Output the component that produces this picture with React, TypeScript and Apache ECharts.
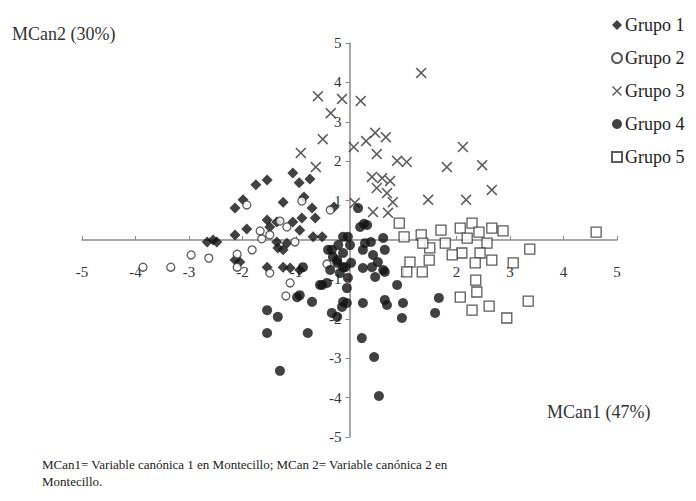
import React, { useEffect, useRef } from "react";
import * as echarts from "echarts";

const xTicks = [-5, -4, -3, -2, -1, 0, 1, 2, 3, 4, 5];
const legendNames = ["Grupo 1", "Grupo 2", "Grupo 3", "Grupo 4", "Grupo 5"];

const grupo1: number[][] = [
  [-1.75, 1.4], [-1.54, 1.52], [-2.14, 0.81], [-1.99, 1.02], [-1.06, 1.7], [-0.94, 1.45],
  [-0.74, 1.55], [-1.24, 0.96], [-0.85, 1.09], [-0.7, 0.81], [-0.64, 0.56], [-0.29, 0.84],
  [-1.54, 0.51], [-1.49, 0.33], [-1.36, 0.46], [-1.06, 0.46], [-0.89, 0.56], [-0.93, 0.25],
  [-1.92, 0.28], [-2.14, 0.13], [-2.55, 0.0], [-2.66, -0.05], [-2.48, -0.05], [-2.14, -0.51],
  [-2.05, -0.56], [-1.34, -0.2], [-1.24, -0.25], [-1.17, -0.08], [-1.36, -0.05], [-0.68, 0.08],
  [-0.51, 0.08], [-1.54, -0.69], [-1.24, -0.69], [-1.11, -0.71], [-0.93, -0.76],
];

const grupo2: number[][] = [
  [-3.86, -0.69], [-3.34, -0.69], [-2.96, -0.38], [-2.63, -0.46], [-2.1, -0.36], [-2.1, -0.69],
  [-1.82, -0.25], [-1.64, 0.03], [-1.49, 0.13], [-1.67, 0.23], [-1.92, 0.89], [-1.3, 0.48],
  [-1.17, 0.33], [-1.02, -0.05], [-0.89, 0.99], [-0.36, 0.76], [-0.42, -0.61], [-1.49, -0.84],
  [-1.11, -1.09], [-1.19, -1.42],
];

const grupo3: number[][] = [
  [-0.59, 3.65], [-0.14, 3.58], [0.21, 3.53], [-0.35, 3.22], [-0.5, 2.56], [-0.91, 2.21],
  [-0.63, 1.85], [0.08, 2.36], [0.31, 2.51], [0.48, 2.72], [0.68, 2.61], [0.51, 2.18],
  [0.89, 2.01], [1.07, 1.98], [1.34, 4.24], [1.82, 1.85], [2.12, 2.36], [2.48, 1.9],
  [2.66, 1.27], [1.47, 1.02], [2.18, 1.02], [0.42, 1.6], [0.61, 1.57], [0.76, 1.5],
  [0.51, 1.32], [0.7, 1.19], [0.81, 0.96], [0.1, 0.94], [0.44, 0.71], [0.72, 0.69],
];

const grupo4: number[][] = [
  [-0.12, 0.08], [-0.03, 0.08], [0.2, 0.33], [0.33, 0.38], [0.16, 0.81], [0.27, 0.41],
  [-0.51, -1.14], [-0.42, -1.09], [-0.98, -1.45], [-0.7, -1.57], [-1.54, -1.78], [-1.34, -1.95],
  [-1.54, -2.36], [-0.78, -2.36], [-1.3, -3.32], [-0.33, -1.85], [-0.23, -1.95], [-0.05, -1.6],
  [-0.33, -0.25], [-0.23, -0.51], [-0.12, -0.69], [-0.14, -1.7], [0.25, -1.6], [0.23, -2.49],
  [0.46, -2.97], [0.55, -3.96], [0.66, -1.52], [0.7, -1.65], [1.0, -1.6], [0.98, -1.98],
  [0.89, -1.14], [-0.05, -1.22], [0.4, -0.05], [0.63, 0.05], [0.25, -0.25], [0.44, -0.38],
  [0.66, -0.25], [0.03, -0.58], [0.25, -0.71], [0.48, -0.94], [0.66, -0.81], [1.67, -1.47],
  [1.6, -1.85], [0.29, -0.08], [0.01, -0.13], [-0.21, -0.13], [-0.4, -0.25], [-0.31, -0.43],
  [-0.12, -0.33], [-0.23, -0.58], [-0.08, -0.69], [-0.18, -0.84], [-0.36, -0.76], [-0.03, -0.96],
  [0.53, -0.56], [0.42, -0.69], [0.63, -0.76], [-0.55, -1.14], [-0.87, -0.69], [-0.93, -1.4],
  [-0.12, -1.57],
];

const grupo5: number[][] = [
  [4.61, 0.2], [3.37, -0.23], [2.87, 0.23], [2.66, 0.3], [2.29, 0.43], [2.07, 0.3],
  [2.42, 0.2], [2.2, 0.05], [2.57, -0.08], [2.44, -0.33], [2.66, -0.51], [2.35, -0.58],
  [2.1, -0.33], [1.92, -0.38], [1.79, -0.08], [1.71, 0.25], [1.5, -0.2], [1.49, -0.51],
  [1.34, 0.13], [1.13, -0.56], [1.07, -0.81], [1.36, -0.81], [1.02, 0.08], [0.93, 0.43],
  [3.06, -0.58], [2.36, -1.02], [2.38, -1.32], [2.07, -1.45], [2.29, -1.78], [2.61, -1.68],
  [2.94, -1.98], [3.34, -1.55], [1.37, -0.08],
];

const X_PATH =
  "path://M1,0 L5,4 L9,0 L10,1 L6,5 L10,9 L9,10 L5,6 L1,10 L0,9 L4,5 L0,1 Z";

const FONT = "'Liberation Serif', 'DejaVu Serif', serif";

const W = 696;
const H = 501;
const GRID = { left: 82, right: 79, top: 43, bottom: 64 };

export default function App() {
  const ref = useRef<HTMLDivElement>(null);
  useEffect(() => {
    document.body.style.margin = "0";
    if (!ref.current) return;
    const chart = echarts.init(ref.current, undefined, { renderer: "svg" });
    const labelFmt = (v: number) => (v === 0 ? "" : String(v));
    const gridW = W - GRID.left - GRID.right;
    const gridH = H - GRID.top - GRID.bottom;
    chart.setOption({
      animation: false,
      backgroundColor: "#ffffff",
      grid: GRID,
      xAxis: {
        type: "value",
        position: "bottom",
        offset: -gridH / 2,
        min: xTicks[0],
        max: xTicks[xTicks.length - 1],
        interval: 1,
        axisLine: { onZero: false, lineStyle: { color: "#8a8a8a", width: 1.5 } },
        axisTick: { show: true, inside: true, length: 4, lineStyle: { color: "#8a8a8a" } },
        axisLabel: {
          formatter: labelFmt,
          color: "#333",
          fontFamily: FONT,
          fontSize: 15,
          margin: 24,
        },
        splitLine: { show: false },
      },
      yAxis: {
        type: "value",
        position: "left",
        offset: -gridW / 2,
        min: -5,
        max: 5,
        interval: 1,
        axisLine: { onZero: false, lineStyle: { color: "#8a8a8a", width: 1.5 } },
        axisTick: { show: true, inside: false, length: 4, lineStyle: { color: "#8a8a8a" } },
        axisLabel: {
          formatter: labelFmt,
          color: "#333",
          fontFamily: FONT,
          fontSize: 15,
          margin: 8,
        },
        splitLine: { show: false },
      },
      legend: {
        orient: "vertical",
        left: 606,
        top: 11,
        itemWidth: 10,
        itemHeight: 10,
        itemGap: 15,
        textStyle: { fontFamily: FONT, fontSize: 18, color: "#222", padding: [0, 0, 0, -2] },
        data: legendNames,
      },
      graphic: [
        {
          type: "text",
          left: 12,
          top: 25,
          style: { text: "MCan2 (30%)", font: `18px ${FONT}`, fill: "#333" },
        },
        {
          type: "text",
          left: 547,
          top: 403,
          style: { text: "MCan1 (47%)", font: `18px ${FONT}`, fill: "#333" },
        },
        {
          type: "text",
          left: 42,
          top: 458,
          style: {
            text: "MCan1= Variable canónica 1 en Montecillo; MCan 2= Variable canónica 2 en",
            font: `13px ${FONT}`,
            fill: "#222",
          },
        },
        {
          type: "text",
          left: 42,
          top: 475,
          style: { text: "Montecillo.", font: `13px ${FONT}`, fill: "#222" },
        },
      ],
      series: [
        {
          name: legendNames[0],
          type: "scatter",
          data: grupo1,
          symbol: "diamond",
          symbolSize: 11,
          itemStyle: { color: "#111" },
        },
        {
          name: legendNames[1],
          type: "scatter",
          data: grupo2,
          symbol: "circle",
          symbolSize: 8,
          itemStyle: { color: "#ffffff", borderColor: "#333", borderWidth: 1.3 },
        },
        {
          name: legendNames[2],
          type: "scatter",
          data: grupo3,
          symbol: X_PATH,
          symbolSize: 11,
          itemStyle: { color: "#333" },
        },
        {
          name: legendNames[3],
          type: "scatter",
          data: grupo4,
          symbol: "circle",
          symbolSize: 10,
          itemStyle: { color: "#111" },
        },
        {
          name: legendNames[4],
          type: "scatter",
          data: grupo5,
          symbol: "rect",
          symbolSize: 10,
          itemStyle: { color: "#ffffff", borderColor: "#333", borderWidth: 1.3 },
        },
      ],
    });
    return () => chart.dispose();
  }, []);
  return <div ref={ref} style={{ width: W, height: H }} />;
}
